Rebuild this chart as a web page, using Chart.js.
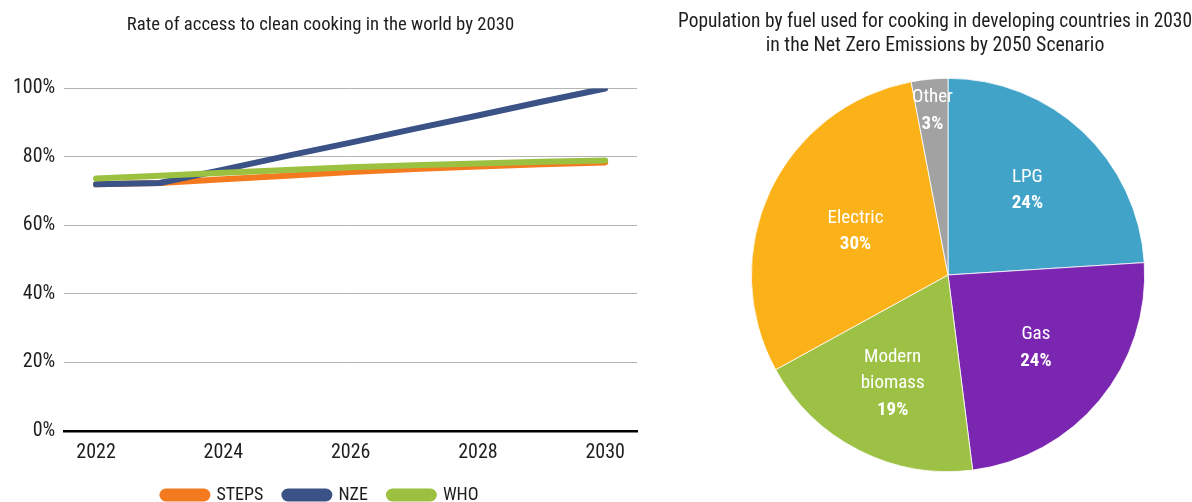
<!DOCTYPE html>
<html><head><meta charset="utf-8">
<script src="https://cdn.jsdelivr.net/npm/chart.js@4.4.1/dist/chart.umd.min.js"></script>
<style>
html,body{margin:0;padding:0;background:#fff;width:1192px;height:502px;overflow:hidden}
#lineWrap{position:absolute;left:0;top:0;width:645px;height:502px;overflow:hidden}
#pieWrap{position:absolute;left:678px;top:0;width:514px;height:502px}
</style></head>
<body>
<div id="lineWrap"><canvas id="lineChart" width="645" height="514"></canvas></div>
<div id="pieWrap"><canvas id="pieChart" width="514" height="502"></canvas></div>
<script>
const years = ['2022','2023','2024','2025','2026','2027','2028','2029','2030'];
const steps = [72.0, 72.4, 73.5, 74.5, 75.6, 76.5, 77.2, 77.9, 78.4];
const nze   = [72.0, 72.4, 76.3, 80.3, 84.2, 88.2, 92.1, 96.1, 100.0];
const who   = [73.7, 74.5, 75.4, 76.2, 77.0, 77.6, 78.1, 78.6, 79.0];
const yTicks = [0, 20, 40, 60, 80, 100];

const pieNames = [['LPG'], ['Gas'], ['Modern', 'biomass'], ['Electric'], ['Other']];
const pieValues = [24, 24, 19, 30, 3];
const pieLabelRadius = [0.59, 0.58, 0.62, 0.52, 0.84];

const FONT = '"Roboto Condensed", "Liberation Sans Narrow", "Roboto", sans-serif';
const TXT = '#1e1e1e';
Chart.defaults.font.family = FONT;
Chart.defaults.color = TXT;

new Chart(document.getElementById('lineChart'), {
  type: 'line',
  data: {
    labels: years,
    datasets: [
      {label: 'STEPS', data: steps, borderColor: '#F47A20', backgroundColor: '#F47A20', order: 2},
      {label: 'NZE', data: nze, borderColor: '#3A5285', backgroundColor: '#3A5285', order: 1},
      {label: 'WHO', data: who, borderColor: '#9CC03F', backgroundColor: '#9CC03F', order: 0}
    ]
  },
  options: {
    responsive: false,
    animation: false,
    layout: {padding: {left: 4, right: 8, top: 0, bottom: 0}},
    elements: {
      line: {borderWidth: 6, tension: 0, borderCapStyle: 'round', borderJoinStyle: 'round'},
      point: {radius: 0, hoverRadius: 0}
    },
    plugins: {
      title: {display: true, text: 'Rate of access to clean cooking in the world by 2030',
        font: {size: 18.7, weight: 'normal'}, color: TXT, padding: {top: 14, bottom: 52}},
      legend: {position: 'bottom',
        labels: {boxWidth: 45, boxHeight: 7, useBorderRadius: true, borderRadius: 3.5,
          font: {size: 18}, color: TXT, padding: 21,
          sort: (a, b) => a.datasetIndex - b.datasetIndex}},
      tooltip: {enabled: false}
    },
    scales: {
      x: {
        type: 'category', offset: true,
        grid: {display: false, drawTicks: false},
        border: {display: true, color: '#000', width: 2.5},
        afterFit: function(s) { s.height -= 10; },
        ticks: {autoSkip: false, maxRotation: 0, padding: 10, font: {size: 20}, color: TXT,
          callback: function(v, i) { return i % 2 === 0 ? years[i] : ''; }}
      },
      y: {
        min: 0, max: 100,
        afterBuildTicks: function(axis) { axis.ticks = yTicks.map(v => ({value: v})); },
        grid: {color: '#b4b4b4', lineWidth: 1, drawTicks: false},
        border: {display: false},
        ticks: {padding: 9, font: {size: 20}, color: TXT, callback: v => v + '%'}
      }
    }
  }
});

const pieLabelPlugin = {
  id: 'pieLabels',
  afterLayout(chart) {
    if (chart.titleBlock) { chart.titleBlock.left = 0; chart.titleBlock.right = chart.width; }
  },
  afterDatasetsDraw(chart) {
    const ctx = chart.ctx;
    const meta = chart.getDatasetMeta(0);
    meta.data.forEach((arc, i) => {
      const p = arc.getProps(['x', 'y', 'startAngle', 'endAngle', 'outerRadius']);
      const mid = (p.startAngle + p.endAngle) / 2;
      const frac = pieLabelRadius[i];
      const cx = p.x + Math.cos(mid) * p.outerRadius * frac;
      const cy = p.y + Math.sin(mid) * p.outerRadius * frac;
      const lines = pieNames[i].map(t => ({t, bold: false})).concat([{t: pieValues[i] + '%', bold: true}]);
      const lh = 26.5;
      const y0 = cy - (lines.length - 1) * lh / 2;
      ctx.save();
      ctx.fillStyle = '#fff';
      ctx.textAlign = 'center';
      ctx.textBaseline = 'middle';
      lines.forEach((l, k) => {
        ctx.font = (l.bold ? 'bold ' : '') + '19px ' + FONT;
        ctx.fillText(l.t, cx, y0 + k * lh);
      });
      ctx.restore();
    });
  }
};

new Chart(document.getElementById('pieChart'), {
  type: 'pie',
  data: {
    labels: pieNames.map(n => n.join(' ')),
    datasets: [{
      data: pieValues,
      backgroundColor: ['#42A3C9', '#7B26B0', '#9DC145', '#FBB118', '#A2A2A2'],
      borderColor: '#ffffff', borderWidth: 0.8
    }]
  },
  options: {
    responsive: false,
    animation: false,
    layout: {padding: {left: 26, right: 0, top: 0, bottom: 30}},
    plugins: {
      title: {display: true,
        text: ['Population by fuel used for cooking in developing countries in 2030', 'in the Net Zero Emissions by 2050 Scenario'],
        font: {size: 19.8, weight: 'normal', lineHeight: 1.21}, color: TXT, padding: {top: 10, bottom: 20}},
      legend: {display: false},
      tooltip: {enabled: false}
    }
  },
  plugins: [pieLabelPlugin]
});
</script>
</body></html>
